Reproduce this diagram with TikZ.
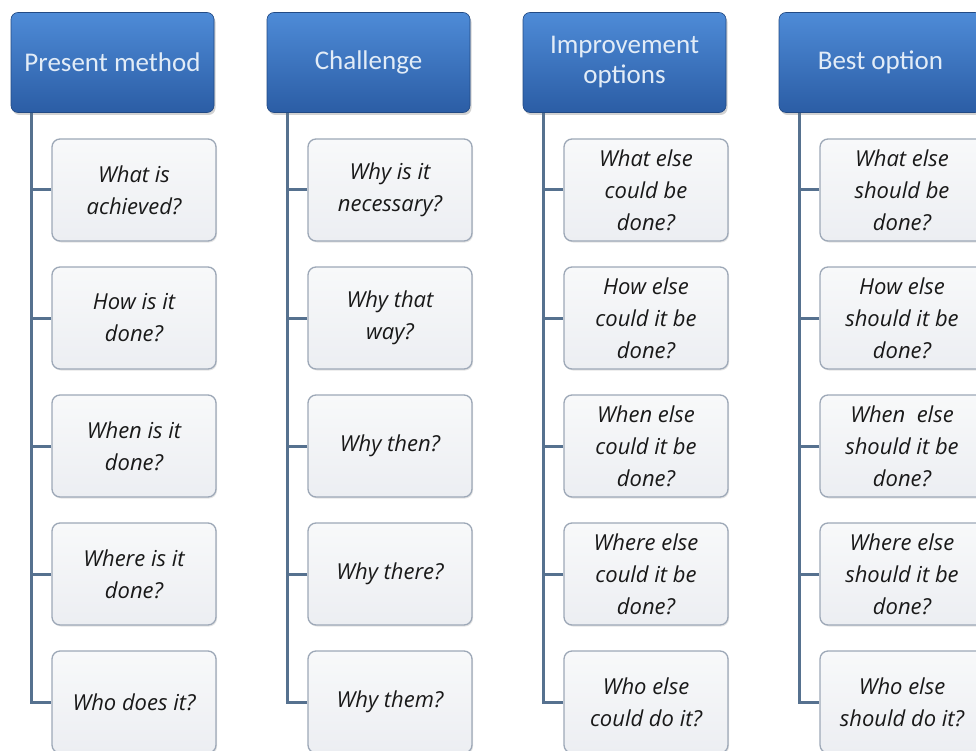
\documentclass[tikz,border=0pt]{standalone}
\usepackage{fontspec}
\setmainfont{Carlito}
\newfontfamily\hand{Open Sans}
\usetikzlibrary{shadows,calc}
\definecolor{hdtop}{HTML}{4E8BD7}
\definecolor{hdbot}{HTML}{2B5DA5}
\definecolor{hdtext}{HTML}{E2ECF7}
\definecolor{bxtop}{HTML}{F8F9FA}
\definecolor{bxbot}{HTML}{ECEEF2}
\definecolor{bxline}{HTML}{9DA8B7}
\definecolor{conncol}{HTML}{56718F}
\tikzset{
  header/.style={rounded corners=7pt, top color=hdtop, bottom color=hdbot,
    draw=hdbot!80!black, line width=0.6pt,
    minimum width=203pt, minimum height=100pt, inner sep=0pt,
    text=hdtext, align=center, font=\fontsize{27}{30}\selectfont,
    drop shadow={shadow xshift=1.5pt, shadow yshift=-2.5pt, opacity=0.35}},
  qbox/.style={rounded corners=8pt, top color=bxtop, bottom color=bxbot,
    draw=bxline, line width=1.3pt,
    minimum width=164pt, minimum height=102pt, inner sep=0pt,
    align=center, font=\hand\itshape\fontsize{22}{32}\selectfont, text=black!90,
    drop shadow={shadow xshift=1pt, shadow yshift=-1.5pt, opacity=0.2}},
  conn/.style={draw=conncol, line width=3pt}
}
\begin{document}
\begin{tikzpicture}[x=1pt,y=-1pt]
\useasboundingbox (0,0) rectangle (976,751);
\fill[white] (0,0) rectangle (976,751);
% column 1
\node[header] (h1) at (112.5,62.5) {Present method};
\node[qbox] (b11) at (134,190) {What is\\achieved?};
\node[qbox] (b12) at (134,318) {How is it\\done?};
\node[qbox] (b13) at (134,446) {When is it\\done?};
\node[qbox] (b14) at (134,574) {Where is it\\done?};
\node[qbox] (b15) at (134,702) {Who does it?};
% column 2
\node[header] (h2) at (368.5,62.5) {Challenge};
\node[qbox] (b21) at (390,190) {Why is it\\necessary?};
\node[qbox] (b22) at (390,318) {Why that\\way?};
\node[qbox] (b23) at (390,446) {Why then?};
\node[qbox] (b24) at (390,574) {Why there?};
\node[qbox] (b25) at (390,702) {Why them?};
% column 3
\node[header] (h3) at (624.5,62.5) {Improvement\\options};
\node[qbox] (b31) at (646,190) {What else\\could be\\done?};
\node[qbox] (b32) at (646,318) {How else\\could it be\\done?};
\node[qbox] (b33) at (646,446) {When else\\could it be\\done?};
\node[qbox] (b34) at (646,574) {Where else\\could it be\\done?};
\node[qbox] (b35) at (646,702) {Who else\\could do it?};
% column 4
\node[header] (h4) at (880.5,62.5) {Best option};
\node[qbox] (b41) at (902,190) {What else\\should be\\done?};
\node[qbox] (b42) at (902,318) {How else\\should it be\\done?};
\node[qbox] (b43) at (902,446) {When\ \ else\\should it be\\done?};
\node[qbox] (b44) at (902,574) {Where else\\should it be\\done?};
\node[qbox] (b45) at (902,702) {Who else\\should do it?};
% connectors
\foreach \c in {1,2,3,4}{
  \coordinate (v\c) at ($(h\c.south west)+(21,0)$);
  \draw[conn] (v\c) |- (b\c5.west);
  \foreach \k in {1,2,3,4}{
    \draw[conn] (b\c\k.west) -- (b\c\k.west -| v\c);
  }
}
\end{tikzpicture}
\end{document}
